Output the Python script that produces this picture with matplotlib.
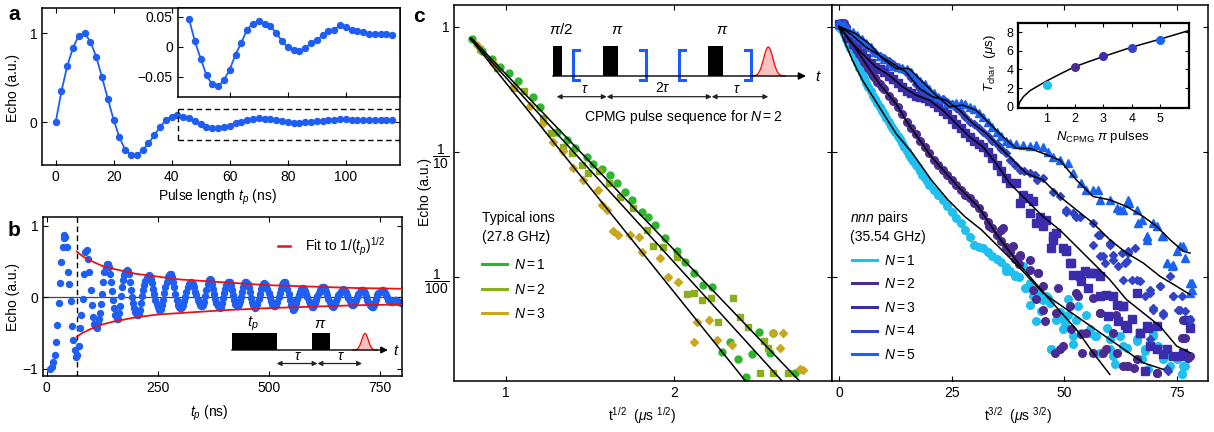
import numpy as np
import matplotlib
matplotlib.use("Agg")
import matplotlib.pyplot as plt
from matplotlib.lines import Line2D
from matplotlib.patches import Rectangle
from matplotlib.ticker import NullLocator

plt.rcParams['font.family'] = ['Liberation Sans', 'DejaVu Sans']
plt.rcParams['mathtext.fontset'] = 'custom'
plt.rcParams['mathtext.rm'] = 'Liberation Sans'
plt.rcParams['mathtext.it'] = 'Liberation Sans:italic'
plt.rcParams['mathtext.bf'] = 'Liberation Sans:bold'
plt.rcParams['font.size'] = 10
plt.rcParams['xtick.direction'] = 'in'
plt.rcParams['ytick.direction'] = 'in'
plt.rcParams['xtick.top'] = True
plt.rcParams['ytick.right'] = True
plt.rcParams['xtick.major.size'] = 3.5
plt.rcParams['ytick.major.size'] = 3.5
plt.rcParams['axes.linewidth'] = 1.1

W, H = 1214, 432

# ---------------- panel a : echo vs pulse length
a_pulse_ns = [0, 2, 4, 6, 8, 10, 12, 14, 16, 18, 20, 22, 24, 26, 28, 30, 32, 34, 36, 38,
              40, 42, 44, 46, 48, 50, 52, 54, 56, 58, 60, 62, 64, 66, 68, 70, 72, 74, 76, 78,
              80, 82, 84, 86, 88, 90, 92, 94, 96, 98, 100, 102, 104, 106, 108, 110, 112, 114, 116]
a_echo = [0.0, 0.348, 0.633, 0.839, 0.974, 1.0, 0.906, 0.734, 0.506, 0.262,
          0.026, -0.169, -0.311, -0.371, -0.371, -0.315, -0.236, -0.146, -0.052, 0.026,
          0.064, 0.082, 0.064, 0.046, 0.009, -0.020, -0.048, -0.063, -0.066, -0.056,
          -0.038, -0.013, 0.007, 0.029, 0.039, 0.043, 0.039, 0.035, 0.023, 0.010,
          -0.001, -0.005, -0.007, -0.002, 0.006, 0.011, 0.019, 0.026, 0.028, 0.036,
          0.033, 0.029, 0.026, 0.024, 0.021, 0.022, 0.022, 0.022, 0.020]
a_inset_start = 23  # inset shows from 46 ns on

# ---------------- panel b : echo vs t_p
b_early_ns = [8, 12, 15, 18, 21, 24, 27, 30, 33, 36, 39, 40, 42, 45, 48, 51, 54, 57, 60, 63,
              66, 69, 72, 75, 78, 81, 84, 87, 90, 93, 96]
b_early_echo = [-1.0, -0.97, -0.91, -0.80, -0.62, -0.38, -0.08, 0.20, 0.50, 0.70, 0.83, 0.87, 0.84,
                0.71, 0.36, 0.18, -0.05, -0.40, -0.60, -0.74, -0.83, -0.80, -0.68, -0.43, -0.25,
                -0.02, 0.33, 0.64, 0.66, 0.53, 0.36]
b_late_ns = list(np.arange(100, 800, 2.5))
b_late_echo = [0.10, -0.10, -0.27, -0.37, -0.42, -0.43, -0.36, -0.30, -0.22, -0.09,
               0.05, 0.21, 0.35, 0.43, 0.47, 0.47, 0.42, 0.33, 0.22, 0.09,
               -0.04, -0.15, -0.25, -0.30, -0.30, -0.22, -0.12, 0.02, 0.15, 0.24,
               0.31, 0.36, 0.38, 0.37, 0.32, 0.22, 0.10, 0.01, -0.08, -0.15,
               -0.20, -0.24, -0.25, -0.23, -0.17, -0.08, 0.02, 0.10, 0.17, 0.23,
               0.27, 0.30, 0.31, 0.30, 0.26, 0.20, 0.12, 0.05, -0.03, -0.09,
               -0.14, -0.17, -0.18, -0.16, -0.11, -0.03, 0.06, 0.15, 0.22, 0.28,
               0.31, 0.33, 0.32, 0.28, 0.22, 0.14, 0.05, -0.03, -0.10, -0.13,
               -0.15, -0.15, -0.14, -0.10, -0.05, 0.01, 0.08, 0.14, 0.18, 0.20,
               0.21, 0.20, 0.18, 0.14, 0.08, 0.03, -0.03, -0.07, -0.10, -0.12,
               -0.12, -0.10, -0.06, 0.02, 0.10, 0.18, 0.24, 0.26, 0.24, 0.19,
               0.12, 0.05, -0.02, -0.08, -0.12, -0.14, -0.15, -0.13, -0.08, -0.01,
               0.06, 0.12, 0.17, 0.21, 0.22, 0.21, 0.17, 0.10, 0.03, -0.03,
               -0.09, -0.11, -0.12, -0.09, -0.05, 0.01, 0.08, 0.14, 0.19, 0.22,
               0.22, 0.19, 0.14, 0.07, -0.01, -0.07, -0.11, -0.14, -0.15, -0.13,
               -0.09, -0.02, 0.05, 0.11, 0.16, 0.19, 0.20, 0.19, 0.17, 0.12,
               0.06, 0.00, -0.05, -0.09, -0.11, -0.12, -0.12, -0.10, -0.06, 0.00,
               0.06, 0.12, 0.17, 0.20, 0.22, 0.21, 0.17, 0.11, 0.04, -0.03,
               -0.10, -0.14, -0.17, -0.16, -0.13, -0.08, -0.02, 0.03, 0.08, 0.11,
               0.13, 0.13, 0.12, 0.09, 0.05, 0.00, -0.05, -0.09, -0.11, -0.13,
               -0.13, -0.11, -0.08, -0.03, 0.02, 0.06, 0.10, 0.13, 0.14, 0.15,
               0.14, 0.11, 0.08, 0.03, -0.02, -0.06, -0.10, -0.12, -0.13, -0.12,
               -0.09, -0.05, -0.01, 0.03, 0.06, 0.08, 0.10, 0.11, 0.10, 0.09,
               0.07, 0.03, -0.01, -0.05, -0.09, -0.11, -0.11, -0.09, -0.07, -0.03,
               0.01, 0.05, 0.08, 0.10, 0.10, 0.10, 0.09, 0.06, 0.02, -0.03,
               -0.07, -0.10, -0.12, -0.13, -0.13, -0.10, -0.06, -0.02, 0.03, 0.06,
               0.08, 0.09, 0.10, 0.10, 0.09, 0.06, 0.03, 0.00, -0.03, -0.05,
               -0.06, -0.07, -0.06, -0.05, -0.03, -0.04, -0.05, -0.06, -0.07, -0.08]
b_fit_ns = [68, 80, 90, 100, 125, 150, 200, 250, 300, 400, 500, 600, 700, 800]
b_fit_upper = [0.64, 0.58, 0.54, 0.51, 0.44, 0.40, 0.33, 0.29, 0.25, 0.21, 0.17, 0.15, 0.13, 0.12]
b_fit_lower = [-0.55, -0.50, -0.47, -0.44, -0.38, -0.34, -0.28, -0.24, -0.22, -0.18, -0.15, -0.13, -0.11, -0.10]
b_marker_ns = 68

# ---------------- panel c left : typical ions, x = t^(1/2), values as log10(echo)
cl_n1_x = [0.798, 0.858, 0.917, 0.966, 1.022, 1.071, 1.160, 1.204, 1.302, 1.362, 1.411, 1.480,
           1.520, 1.569, 1.619, 1.662, 1.708, 1.747, 1.806, 1.845, 1.885, 1.945, 2.014, 2.063,
           2.113, 2.172, 2.221, 2.281, 2.330, 2.379, 2.425, 2.458, 2.504, 2.567, 2.583, 2.715]
cl_n1_log = [-0.101, -0.191, -0.261, -0.319, -0.372, -0.431, -0.564, -0.638, -0.838, -0.904,
             -0.971, -1.037, -1.096, -1.133, -1.184, -1.250, -1.322, -1.383, -1.476, -1.520,
             -1.582, -1.689, -1.787, -1.875, -1.968, -2.064, -2.080, -2.593, -2.513, -2.652,
             -2.793, -2.612, -2.439, -2.606, -2.447, -2.766]
cl_n2_x = [0.85, 0.95, 1.051, 1.111, 1.223, 1.267, 1.342, 1.391, 1.45, 1.490, 1.55, 1.615, 1.678,
           1.757, 1.836, 1.875, 1.935, 2.014, 2.073, 2.117, 2.162, 2.217, 2.261, 2.350, 2.389,
           2.439, 2.528, 2.557, 2.508, 2.587, 2.676]
cl_n2_log = [-0.18, -0.33, -0.492, -0.511, -0.731, -0.846, -0.957, -1.011, -1.10, -1.170, -1.15,
             -1.245, -1.356, -1.449, -1.622, -1.750, -1.761, -1.835, -2.136, -2.128, -2.181,
             -2.168, -2.354, -2.162, -2.314, -2.399, -2.505, -2.566, -2.766, -2.766, -2.761]
cl_n3_x = [0.828, 0.927, 1.045, 1.144, 1.223, 1.283, 1.342, 1.397, 1.460, 1.549, 1.569, 1.599,
           1.634, 1.668, 1.737, 1.787, 1.806, 1.915, 1.964, 2.024, 2.132, 2.202, 2.251, 2.113,
           2.340, 2.587, 2.646, 2.626, 2.745, 2.761]
cl_n3_log = [-0.146, -0.293, -0.484, -0.633, -0.766, -0.918, -0.989, -1.130, -1.223, -1.303,
             -1.423, -1.463, -1.628, -1.662, -1.662, -1.681, -1.795, -1.848, -1.995, -2.035,
             -2.354, -2.340, -2.500, -2.513, -2.540, -2.447, -2.441, -2.566, -2.734, -2.739]
cl_fit_n1_x = [0.798, 2.739]
cl_fit_n1_log = [-0.093, -2.824]
cl_fit_n2_x = [0.789, 2.636]
cl_fit_n2_log = [-0.093, -2.824]
cl_fit_n3_x = [0.789, 2.419]
cl_fit_n3_log = [-0.093, -2.824]

# ---------------- panel c right : nnn pairs, x = t^(3/2), values as log10(echo)
cr_n1_x = [0, 0.5, 1, 1.5, 2, 2.5, 3, 3.5, 4, 4.5, 5, 5.5, 6, 6.5, 7, 7.5, 8, 8.5, 9, 9.5, 10,
           10.5, 11, 11.5, 12, 12.5, 13, 13.5, 14, 14.5, 15, 15.5, 16, 16.5, 17, 17.5, 18, 18.5,
           19, 19.5, 20, 21, 22, 23, 24, 25, 26, 27, 28, 29, 30, 31, 32, 33, 34, 35, 36, 37, 38,
           39, 40,
           39.35, 40.83, 41.57, 42.32, 43.8, 44.5, 45.29, 46.0, 46.77, 47.14, 48.26, 49.0, 50.11,
           50.8, 51.97, 52.71, 53.82, 55.68, 57.16, 60.13, 60.87, 63.10, 66.07, 67.19, 67.93,
           68.67, 69.78, 72.01, 73.5, 74.98, 76.1, 76.47,
           37.1, 39.0, 41.2, 43.1, 42.3, 44.9, 46.4, 49.0, 49.7, 52.0, 47.1, 50.8, 53.1, 54.9,
           55.7, 56.8, 57.9, 59.4, 60.1, 61.2, 62.4, 63.9, 66.1, 68.0, 69.8, 70.9, 73.5, 76.1,
           76.8]
cr_n1_log = [0.0, -0.02, -0.06, -0.10, -0.14, -0.17, -0.21, -0.25, -0.29, -0.33, -0.37, -0.41,
             -0.45, -0.48, -0.51, -0.55, -0.58, -0.61, -0.64, -0.67, -0.70, -0.73, -0.76, -0.79,
             -0.82, -0.84, -0.87, -0.90, -0.93, -0.96, -0.99, -1.02, -1.05, -1.07, -1.10, -1.12,
             -1.15, -1.18, -1.21, -1.23, -1.26, -1.30, -1.34, -1.38, -1.43, -1.48, -1.53, -1.57,
             -1.62, -1.68, -1.74, -1.76, -1.77, -1.80, -1.83, -1.85, -1.88, -1.92, -1.95, -1.98,
             -2.00,
             -1.992, -1.912, -2.085, -2.045, -2.35, -2.12, -2.178, -2.15, -2.204, -2.576, -2.337,
             -2.28, -2.363, -2.30, -2.469, -2.337, -2.443, -2.443, -2.469, -2.576, -2.629,
             -2.549, -2.496, -2.655, -2.576, -2.735, -2.469, -2.655, -2.708, -2.655, -2.775,
             -2.708,
             -1.952, -1.992, -2.084, -2.151, -2.217, -2.270, -2.164, -2.323, -2.416, -2.535,
             -2.575, -2.177, -2.231, -2.297, -2.416, -2.469, -2.602, -2.403, -2.496, -2.695,
             -2.469, -2.562, -2.509, -2.589, -2.456, -2.549, -2.628, -2.774, -2.708]
cr_n2_x = [0, 0.5, 1, 1.5, 2, 2.5, 3, 3.5, 4, 4.5, 5, 5.5, 6, 6.5, 7, 7.5, 8, 8.5, 9, 9.5, 10,
           11, 12, 13, 14, 15, 16, 17, 18, 19, 20, 21, 22, 23, 24, 25, 26, 27, 28, 29, 30, 31,
           32, 33, 34, 35, 36, 37, 38, 39, 40,
           33.41, 35.9, 38.6, 40.09, 42.32, 44.17, 45.29, 48.26, 49.0, 49.74, 51.22, 52.71,
           54.94, 56.42, 57.9, 59.39, 61.62, 63.10, 64.22, 66.07, 70.53, 76.47, 76.84, 77.95,
           36.4, 40.1, 42.3, 44.2, 43.1, 43.8, 45.3, 45.7, 48.6, 53.1, 51.6, 53.8, 47.9, 56.4,
           57.9, 61.6, 58.6, 60.9, 63.9, 65.4, 70.5, 76.1, 77.6, 77.9, 53.9]
cr_n2_log = [0.01, 0.03, 0.03, 0.0, -0.05, -0.09, -0.13, -0.16, -0.19, -0.22, -0.25, -0.28,
             -0.30, -0.33, -0.36, -0.39, -0.41, -0.44, -0.46, -0.48, -0.50,
             -0.55, -0.59, -0.64, -0.70, -0.76, -0.81, -0.86, -0.91, -0.96, -1.01, -1.06, -1.10,
             -1.14, -1.18, -1.22, -1.26, -1.30, -1.34, -1.37, -1.41, -1.45, -1.50, -1.56, -1.61,
             -1.66, -1.71, -1.76, -1.80, -1.85, -1.89,
             -1.594, -1.62, -1.753, -1.833, -1.859, -1.966, -2.072, -2.284, -2.576, -2.549,
             -2.231, -2.125, -2.443, -2.602, -2.284, -2.576, -2.602, -2.708, -2.708, -2.655,
             -2.761, -2.337, -2.483, -2.629,
             -1.607, -1.819, -1.939, -1.965, -2.098, -2.177, -2.257, -2.350, -2.084, -2.151,
             -2.416, -2.456, -2.602, -2.164, -2.284, -2.297, -2.602, -2.442, -2.708, -2.721,
             -2.761, -2.482, -2.641, -2.390, -2.602]
cr_n3_x = [0, 1, 2, 3, 4, 5, 6, 7, 8, 9, 10, 11, 12, 13, 14, 15, 16, 17, 18, 19, 20, 21, 22,
           23, 24, 25, 26, 27, 28, 29, 30, 31, 32, 33, 34, 35, 36, 37, 38,
           39.35, 40.83, 41.94, 43.06, 44.54, 46.03, 47.51, 48.26, 49.74, 50.48, 51.6, 51.97,
           53.45, 54.57, 55.68, 57.16, 57.9, 59.39, 61.62, 63.10, 63.47, 66.82, 68.3, 70.53,
           72.75, 74.24, 76.47, 77.58,
           40.1, 42.3, 43.8, 45.3, 47.5, 47.1, 50.5, 51.2, 53.5, 53.8, 56.0, 55.2, 57.9, 60.9,
           59.8, 62.0, 63.9, 65.0, 63.1, 66.1, 66.8, 68.6, 70.5, 69.0, 72.0, 76.1, 68.0, 77.9]
cr_n3_log = [0.02, -0.02, -0.09, -0.14, -0.17, -0.21, -0.25, -0.29, -0.32, -0.34, -0.36, -0.39,
             -0.42, -0.45, -0.48, -0.51, -0.53, -0.55, -0.56, -0.57, -0.59, -0.61, -0.64, -0.67,
             -0.70, -0.74, -0.78, -0.81, -0.85, -0.88, -0.91, -0.94, -0.96, -1.00, -1.05, -1.10,
             -1.15, -1.21, -1.25,
             -1.249, -1.342, -1.369, -1.395, -1.515, -1.541, -1.674, -1.647, -1.767, -1.793,
             -1.886, -1.979, -1.992, -1.952, -1.966, -1.966, -1.992, -2.138, -2.218, -2.231,
             -2.377, -2.443, -2.390, -2.576, -2.576, -2.629, -2.602, -2.337,
             -1.408, -1.488, -1.567, -1.594, -1.700, -1.766, -1.780, -1.886, -1.978, -2.032,
             -1.965, -2.084, -2.151, -2.151, -2.310, -2.350, -2.403, -2.336, -2.231, -2.124,
             -2.442, -2.403, -2.390, -2.549, -2.615, -2.628, -2.748, -2.403]
cr_n4_x = [0, 1, 2, 3, 4, 5, 6, 7, 8, 9, 10, 11, 12, 13, 14, 15, 16, 17, 18, 19, 20, 21, 22,
           23, 24, 25, 26, 27, 28, 29, 30, 31, 32, 33, 34, 35, 36, 37,
           37.86, 39.0, 40.09, 41.0, 42.32, 43.5, 44.0, 45.29, 47.51, 49.0, 50.48, 51.97, 53.45,
           56.42, 57.53, 57.9, 59.02, 60.13, 60.87, 62.73, 63.47, 64.22, 65.7, 66.07, 68.3,
           69.04, 69.78, 71.27, 72.01, 74.24, 75.35, 76.84, 77.95, 72.75, 69.04,
           50.5, 52.7, 57.9, 60.1, 56.4, 58.6, 60.9, 62.0, 64.2, 63.9, 63.1, 65.0, 66.8, 69.0,
           71.3, 68.0, 69.8, 72.0, 74.2, 76.1, 73.5, 75.7, 77.9, 73.1]
cr_n4_log = [0.02, -0.01, -0.04, -0.07, -0.10, -0.13, -0.16, -0.18, -0.21, -0.23, -0.25, -0.27,
             -0.30, -0.32, -0.34, -0.37, -0.41, -0.46, -0.50, -0.53, -0.55, -0.56, -0.57, -0.58,
             -0.60, -0.62, -0.65, -0.68, -0.72, -0.76, -0.78, -0.81, -0.84, -0.87, -0.91, -0.94,
             -0.98, -1.01,
             -1.064, -1.10, -1.143, -1.15, -1.170, -1.18, -1.22, -1.21, -1.316, -1.355, -1.462,
             -1.488, -1.515, -1.568, -1.661, -1.833, -1.886, -1.740, -1.820, -1.806, -1.886,
             -1.793, -1.767, -2.019, -1.700, -2.125, -2.257, -2.072, -2.284, -2.151, -2.257,
             -2.271, -2.337, -2.735, -2.496,
             -1.475, -1.515, -1.660, -1.726, -1.740, -1.833, -1.859, -1.912, -1.806, -1.873,
             -2.018, -2.018, -2.032, -2.098, -2.071, -2.151, -2.243, -2.297, -2.151, -2.151,
             -1.992, -2.257, -2.336, -2.748]
cr_n5_x = [0, 1, 2, 3, 4, 5, 6, 7, 8, 9, 10, 11, 12, 13, 14, 15, 16, 17, 18, 19, 20, 21, 22,
           23, 24, 25, 26, 27, 28, 29, 30, 31, 32, 33, 34, 35, 36, 37,
           37.86, 39.3, 40.83, 42.3, 43.8, 45.29, 46.4, 47.51, 49.0, 50.85, 51.97, 53.82, 54.94,
           56.3, 57.53, 57.9, 60.13, 61.62, 63.10, 64.22, 66.07, 67.19, 68.3, 69.78, 71.64,
           72.75, 73.87, 74.98, 76.47, 77.95, 78.32,
           72.8, 74.2, 78.3, 76.8, 77.9, 68.3, 72.0, 70.5, 75.7, 66.4, 64.5, 62.4]
cr_n5_log = [0.03, 0.02, -0.02, -0.04, -0.07, -0.10, -0.13, -0.16, -0.20, -0.23, -0.26, -0.29,
             -0.31, -0.32, -0.33, -0.34, -0.36, -0.40, -0.43, -0.46, -0.50, -0.53, -0.56, -0.58,
             -0.61, -0.62, -0.61, -0.61, -0.62, -0.64, -0.66, -0.69, -0.72, -0.76, -0.80, -0.84,
             -0.87, -0.91,
             -0.931, -0.94, -0.944, -0.95, -0.944, -0.958, -1.0, -1.037, -1.064, -1.090, -1.170,
             -1.249, -1.302, -1.30, -1.302, -1.382, -1.382, -1.448, -1.462, -1.382, -1.462,
             -1.541, -1.674, -1.568, -1.674, -1.886, -1.912, -1.793, -1.753, -2.125, -2.045,
             -1.886, -1.899, -2.098, -1.846, -2.045, -1.700, -1.674, -1.594, -1.753, -1.567,
             -1.408, -1.461]
cr_fit_n1_x = [0, 1.11, 2.97, 5.20, 8.91, 12.62, 16.33, 20.49, 24.20, 27.91, 31.63, 35.34, 39.79,
               45.29, 52.71, 60.13, 67.56, 72.01]
cr_fit_n1_log = [-0.003, -0.109, -0.268, -0.427, -0.639, -0.851, -1.011, -1.223, -1.382, -1.515,
                 -1.621, -1.753, -1.912, -2.125, -2.310, -2.496, -2.682, -2.735]
cr_fit_n2_x = [0, 2.23, 5.20, 8.91, 12.62, 15.29, 20.49, 26.43, 30.88, 35.34, 39.79, 46.77,
               52.71, 56.42, 60.13]
cr_fit_n2_log = [0.003, -0.095, -0.255, -0.454, -0.613, -0.772, -1.037, -1.276, -1.435, -1.674,
                 -1.886, -2.178, -2.416, -2.602, -2.775]
cr_fit_n3_x = [0, 2.23, 5.20, 8.17, 11.14, 14.11, 17.07, 20.04, 23.01, 25.98, 28.95, 31.92,
               34.89, 37.86, 41.57, 45.29, 49.00, 52.71, 56.42, 60.13, 63.84, 67.56, 71.27,
               74.98, 77.95]
cr_fit_n3_log = [0.003, -0.109, -0.215, -0.321, -0.387, -0.480, -0.546, -0.586, -0.666, -0.772,
                 -0.878, -0.958, -1.090, -1.249, -1.382, -1.515, -1.621, -1.753, -1.886, -2.019,
                 -2.178, -2.284, -2.390, -2.549, -2.602]
cr_fit_n4_x = [0, 2.97, 5.94, 8.91, 11.88, 14.85, 17.82, 20.79, 23.76, 26.73, 29.70, 32.67,
               35.63, 37.86, 41.57, 45.29, 49.00, 52.71, 56.42, 60.13, 63.84, 67.56, 71.27,
               74.98, 77.95]
cr_fit_n4_log = [0.003, -0.069, -0.162, -0.228, -0.294, -0.361, -0.493, -0.560, -0.586, -0.666,
                 -0.772, -0.851, -0.958, -1.037, -1.170, -1.223, -1.355, -1.462, -1.568, -1.700,
                 -1.806, -1.886, -1.992, -2.072, -2.138]
cr_fit_n5_x = [0, 3.71, 6.68, 9.65, 12.62, 15.59, 18.56, 21.53, 24.50, 27.47, 30.44, 33.41,
               36.38, 39.35, 42.32, 45.29, 49.00, 52.71, 56.42, 60.13, 63.84, 67.56, 70.53,
               73.50, 76.47, 77.95]
cr_fit_n5_log = [0.003, -0.056, -0.135, -0.255, -0.334, -0.334, -0.440, -0.546, -0.639, -0.626,
                 -0.666, -0.772, -0.878, -0.971, -0.971, -1.011, -1.064, -1.223, -1.355, -1.382,
                 -1.435, -1.515, -1.594, -1.700, -1.793, -1.806]

# inset of c right : characteristic time vs number of pi pulses
ins_n = [1, 2, 3, 4, 5]
ins_tchar = [2.3, 4.3, 5.45, 6.3, 7.1]
ins_fit_n = [0.01, 0.05, 0.18, 0.41, 0.65, 1.0, 1.5, 2.0, 2.5, 3.0, 4.0, 5.0, 6.03]
ins_fit_t = [0.05, 0.5, 1.08, 1.72, 2.15, 2.76, 3.55, 4.3, 4.85, 5.38, 6.38, 7.24, 8.17]

BLUE = '#1f5ef2'
RED = '#e3141b'
CL_COLORS = ['#2db52d', '#8aae1c', '#c9a820']
CR_COLORS = ['#1fbff0', '#4a2b93', '#3b2cae', '#3343c6', '#1a63f2']
BRACKET = '#1a5cff'
DASH = (0, (4, 2.5))


def px_box(l, t, r, b):
    return [l / W, 1 - b / H, (r - l) / W, (b - t) / H]


fig = plt.figure(figsize=(W / 100, H / 100), dpi=100)

# ---------------- a
ax_a = fig.add_axes(px_box(42, 8, 400, 165))
ax_a.plot(a_pulse_ns, a_echo, '-o', color=BLUE, lw=1.3, ms=4.3)
ax_a.set_xlim(-4.7, 118.7)
ax_a.set_ylim(-0.48, 1.284)
ax_a.set_xticks([0, 20, 40, 60, 80, 100])
ax_a.set_yticks([0, 1])
ax_a.plot([42.07, 42.07], [-0.20, 0.148], color='k', ls=DASH, lw=1)
ax_a.plot([42.07, 118.7], [0.148, 0.148], color='k', ls=DASH, lw=1)
ax_a.plot([42.07, 118.7], [-0.20, -0.20], color='k', ls=DASH, lw=1)

ax_ai = fig.add_axes(px_box(177.7, 8, 400, 96.7))
ax_ai.plot(a_pulse_ns[a_inset_start:], a_echo[a_inset_start:], '-o', color=BLUE, lw=1.3, ms=4.3)
ax_ai.set_xlim(42.07, 118.7)
ax_ai.set_ylim(-0.0835, 0.065)
ax_ai.set_xticks([60, 80, 100])
ax_ai.set_xticklabels([])
ax_ai.set_yticks([-0.05, 0, 0.05])
ax_ai.set_yticklabels(['\u22120.05', '0', '0.05'])
ax_ai.tick_params(top=False, right=False)

# ---------------- b
ax_b = fig.add_axes(px_box(43.3, 217.3, 401.7, 375.7))
ax_b.axhline(0, color='#444444', lw=0.9, zorder=1)
ax_b.axvline(b_marker_ns, color='k', ls=DASH, lw=1, zorder=1)
ax_b.plot(b_early_ns + b_late_ns, b_early_echo + b_late_echo, 'o', color=BLUE, ms=4.3, zorder=2)
ax_b.plot(b_fit_ns, b_fit_upper, color=RED, lw=1.3, zorder=3)
ax_b.plot(b_fit_ns, b_fit_lower, color=RED, lw=1.3, zorder=3)
ax_b.set_xlim(-7.7, 800)
ax_b.set_ylim(-1.096, 1.12)
ax_b.set_xticks([0, 250, 500, 750])
ax_b.set_yticks([-1, 0, 1])
ax_b.legend([Line2D([], [], color=RED, lw=1.8)], [r'Fit to 1/($t_p$)$^{1/2}$'],
            loc='upper right', bbox_to_anchor=(0.955, 0.885), frameon=False,
            handlelength=0.9, handletextpad=1.1, borderpad=0, borderaxespad=0)

# ---------------- c left
ax_c1 = fig.add_axes(px_box(454.3, 5, 832, 380.7))
ax_c1.set_yscale('log')
for xs, ls_, col, mk, ms in [(cl_n1_x, cl_n1_log, CL_COLORS[0], 'o', 5.0),
                             (cl_n2_x, cl_n2_log, CL_COLORS[1], 's', 4.7),
                             (cl_n3_x, cl_n3_log, CL_COLORS[2], 'D', 4.1)]:
    ax_c1.plot(xs, 10 ** np.array(ls_), ls='none', marker=mk, ms=ms, color=col, zorder=2)
for xs, ls_ in [(cl_fit_n1_x, cl_fit_n1_log), (cl_fit_n2_x, cl_fit_n2_log),
                (cl_fit_n3_x, cl_fit_n3_log)]:
    ax_c1.plot(xs, 10 ** np.array(ls_), color='k', lw=1.1, zorder=4)
ax_c1.set_xlim(0.695, 2.934)
ax_c1.set_ylim(10 ** -2.825, 10 ** 0.173)
ax_c1.set_xticks([1, 2])
ax_c1.set_yticks([1, 0.1, 0.01])
ax_c1.set_yticklabels(['1', r'$\dfrac{1}{10}$', r'$\dfrac{1}{100}$'])
ax_c1.yaxis.set_minor_locator(NullLocator())
ax_c1.legend([Line2D([], [], color=c, lw=2.2) for c in CL_COLORS],
             [r'$N=1$', r'$N=2$', r'$N=3$'],
             loc='upper left', bbox_to_anchor=(0.0725, 0.327), frameon=False,
             handlelength=1.8, handletextpad=0.5, labelspacing=0.77, borderpad=0,
             borderaxespad=0)

# ---------------- c right
ax_c2 = fig.add_axes(px_box(832, 5, 1208.3, 380.7))
ax_c2.set_yscale('log')
series = [(cr_n1_x, cr_n1_log, 'o', 5.5), (cr_n2_x, cr_n2_log, 'o', 5.5),
          (cr_n3_x, cr_n3_log, 's', 5.2), (cr_n4_x, cr_n4_log, 'D', 4.5),
          (cr_n5_x, cr_n5_log, '^', 6.0)]
for (xs, ls_, mk, ms), col in zip(series, CR_COLORS):
    ax_c2.plot(xs, 10 ** np.array(ls_), ls='none', marker=mk, ms=ms, color=col, zorder=2)
for xs, ls_ in [(cr_fit_n1_x, cr_fit_n1_log), (cr_fit_n2_x, cr_fit_n2_log),
                (cr_fit_n3_x, cr_fit_n3_log), (cr_fit_n4_x, cr_fit_n4_log),
                (cr_fit_n5_x, cr_fit_n5_log)]:
    ax_c2.plot(xs, 10 ** np.array(ls_), color='k', lw=1.1, zorder=4)
ax_c2.set_xlim(-1.56, 82.0)
ax_c2.set_ylim(10 ** -2.825, 10 ** 0.173)
ax_c2.set_xticks([0, 25, 50, 75])
ax_c2.set_yticks([1, 0.1, 0.01])
ax_c2.set_yticklabels([])
ax_c2.yaxis.set_minor_locator(NullLocator())
ax_c2.legend([Line2D([], [], color=c, lw=2.2) for c in CR_COLORS],
             [r'$N=%d$' % k for k in range(1, 6)],
             loc='upper left', bbox_to_anchor=(0.053, 0.338), frameon=False,
             handlelength=1.8, handletextpad=0.5, labelspacing=0.69, borderpad=0,
             borderaxespad=0)

# inset
ax_ci = fig.add_axes(px_box(1018.3, 22.7, 1189.3, 107.7))
ax_ci.plot(ins_fit_n, ins_fit_t, color='k', lw=1.1, zorder=2)
for n, t, col in zip(ins_n, ins_tchar, CR_COLORS):
    ax_ci.errorbar(n, t, xerr=0.1, fmt='o', ms=5.5, color=col, elinewidth=1.2, capsize=0, zorder=3)
ax_ci.set_xlim(0, 6.03)
ax_ci.set_ylim(-0.1, 9)
ax_ci.set_xticks([1, 2, 3, 4, 5])
ax_ci.set_yticks([0, 2, 4, 6, 8])
ax_ci.tick_params(labelsize=9, length=3)
for s in ax_ci.spines.values():
    s.set_linewidth(1.6)

# ---------------- overlay: labels and pulse-sequence sketches in pixel coordinates
ov = fig.add_axes([0, 0, 1, 1])
ov.set_xlim(0, W)
ov.set_ylim(H, 0)
ov.axis('off')

for s, x, y in [('a', 14, 15), ('b', 14, 230), ('c', 419, 16)]:
    ov.text(x, y, s, fontsize=15, fontweight='bold', ha='center', va='center')
ov.text(13, 88, 'Echo (a.u.)', rotation=90, ha='center', va='center')
ov.text(217, 197, r'Pulse length $t_p$ (ns)', ha='center', va='center')
ov.text(13, 297, 'Echo (a.u.)', rotation=90, ha='center', va='center')
ov.text(209, 413, r'$t_p$ (ns)', ha='center', va='center')
ov.text(425, 192, 'Echo (a.u.)', rotation=90, ha='center', va='center')
ov.text(642, 416, r't$^{1/2}$  ($\mu$s $^{1/2}$)', ha='center', va='center')
ov.text(1018, 416, r't$^{3/2}$  ($\mu$s $^{3/2}$)', ha='center', va='center')
ov.text(1103, 137, r'$N_{\rm CPMG}$ $\pi$ pulses', ha='center', va='center', fontsize=9.5)
ov.text(990, 63, r'$T_{\rm char}$  ($\mu$s)', rotation=90, ha='center', va='center', fontsize=9.5)
ov.text(482, 218, 'Typical ions', ha='left', va='center')
ov.text(482, 237, '(27.8 GHz)', ha='left', va='center')
ov.text(850, 218, '$nnn$ pairs', ha='left', va='center')
ov.text(850, 237.5, '(35.54 GHz)', ha='left', va='center')


def pulse(x0, x1, top, base):
    ov.add_patch(Rectangle((x0, top), x1 - x0, base - top, color='k', lw=0))


def echo_bump(xc, half, height, base):
    xs = np.linspace(xc - half, xc + half, 60)
    ys = base - height * np.exp(-((xs - xc) / (half / 2.6)) ** 2)
    ov.fill_between(xs, ys, base, color='#f8c2c2', lw=0)
    ov.plot(xs, ys, color='red', lw=0.9)


def span_arrow(x0, x1, y):
    ov.annotate('', xy=(x1, y), xytext=(x0, y),
                arrowprops=dict(arrowstyle='<|-|>', color='#222222', lw=0.9,
                                mutation_scale=7, shrinkA=0, shrinkB=0))


# sketch in b
ov.annotate('', xy=(388, 350), xytext=(231.7, 350),
            arrowprops=dict(arrowstyle='-|>', color='k', lw=1, mutation_scale=10,
                            shrinkA=0, shrinkB=0))
pulse(231.7, 276.7, 332.7, 350)
pulse(311.7, 330, 332.7, 350)
echo_bump(365, 12, 16.5, 350)
ov.text(393, 351, '$t$', fontsize=11, ha='left', va='center')
ov.text(253, 324, '$t_p$', fontsize=11, ha='center', va='center')
ov.text(320, 324, r'$\pi$', fontsize=11, ha='center', va='center')
span_arrow(276.7, 317.5, 363.5)
span_arrow(317.5, 362, 363.5)
ov.text(298, 356, r'$\tau$', ha='center', va='center')
ov.text(341, 356, r'$\tau$', ha='center', va='center')

# CPMG sketch in c
ov.annotate('', xy=(806, 76), xytext=(552.7, 76),
            arrowprops=dict(arrowstyle='-|>', color='k', lw=1, mutation_scale=11,
                            shrinkA=0, shrinkB=0))
pulse(552.7, 561.7, 45.7, 76)
pulse(602.7, 617.7, 45.7, 76)
pulse(707.7, 723.3, 45.7, 76)
echo_bump(768.3, 17, 29, 76)
for xv, xs_ in [(573.3, 579.3), (679.3, 685.3)]:
    ov.plot([xs_, xv, xv, xs_], [49.5, 49.5, 80, 80], color=BRACKET, lw=2.2,
            solid_joinstyle='miter')
for xv, xs_ in [(646, 640), (750.7, 744.7)]:
    ov.plot([xs_, xv, xv, xs_], [49.5, 49.5, 80, 80], color=BRACKET, lw=2.2,
            solid_joinstyle='miter')
ov.text(561, 30, r'$\pi/2$', fontsize=11, ha='center', va='center')
ov.text(617, 30, r'$\pi$', fontsize=11, ha='center', va='center')
ov.text(722, 30, r'$\pi$', fontsize=11, ha='center', va='center')
ov.text(815, 77, '$t$', fontsize=11, ha='left', va='center')
span_arrow(556.7, 606.7, 96.7)
span_arrow(606.7, 711.7, 96.7)
span_arrow(711.7, 768.3, 96.7)
ov.text(585, 89, r'$\tau$', ha='center', va='center')
ov.text(663, 88, r'2$\tau$', ha='center', va='center')
ov.text(737, 89, r'$\tau$', ha='center', va='center')
ov.text(683, 117, r'CPMG pulse sequence for $N=2$', ha='center', va='center')

fig.savefig('out.png', dpi=100)
